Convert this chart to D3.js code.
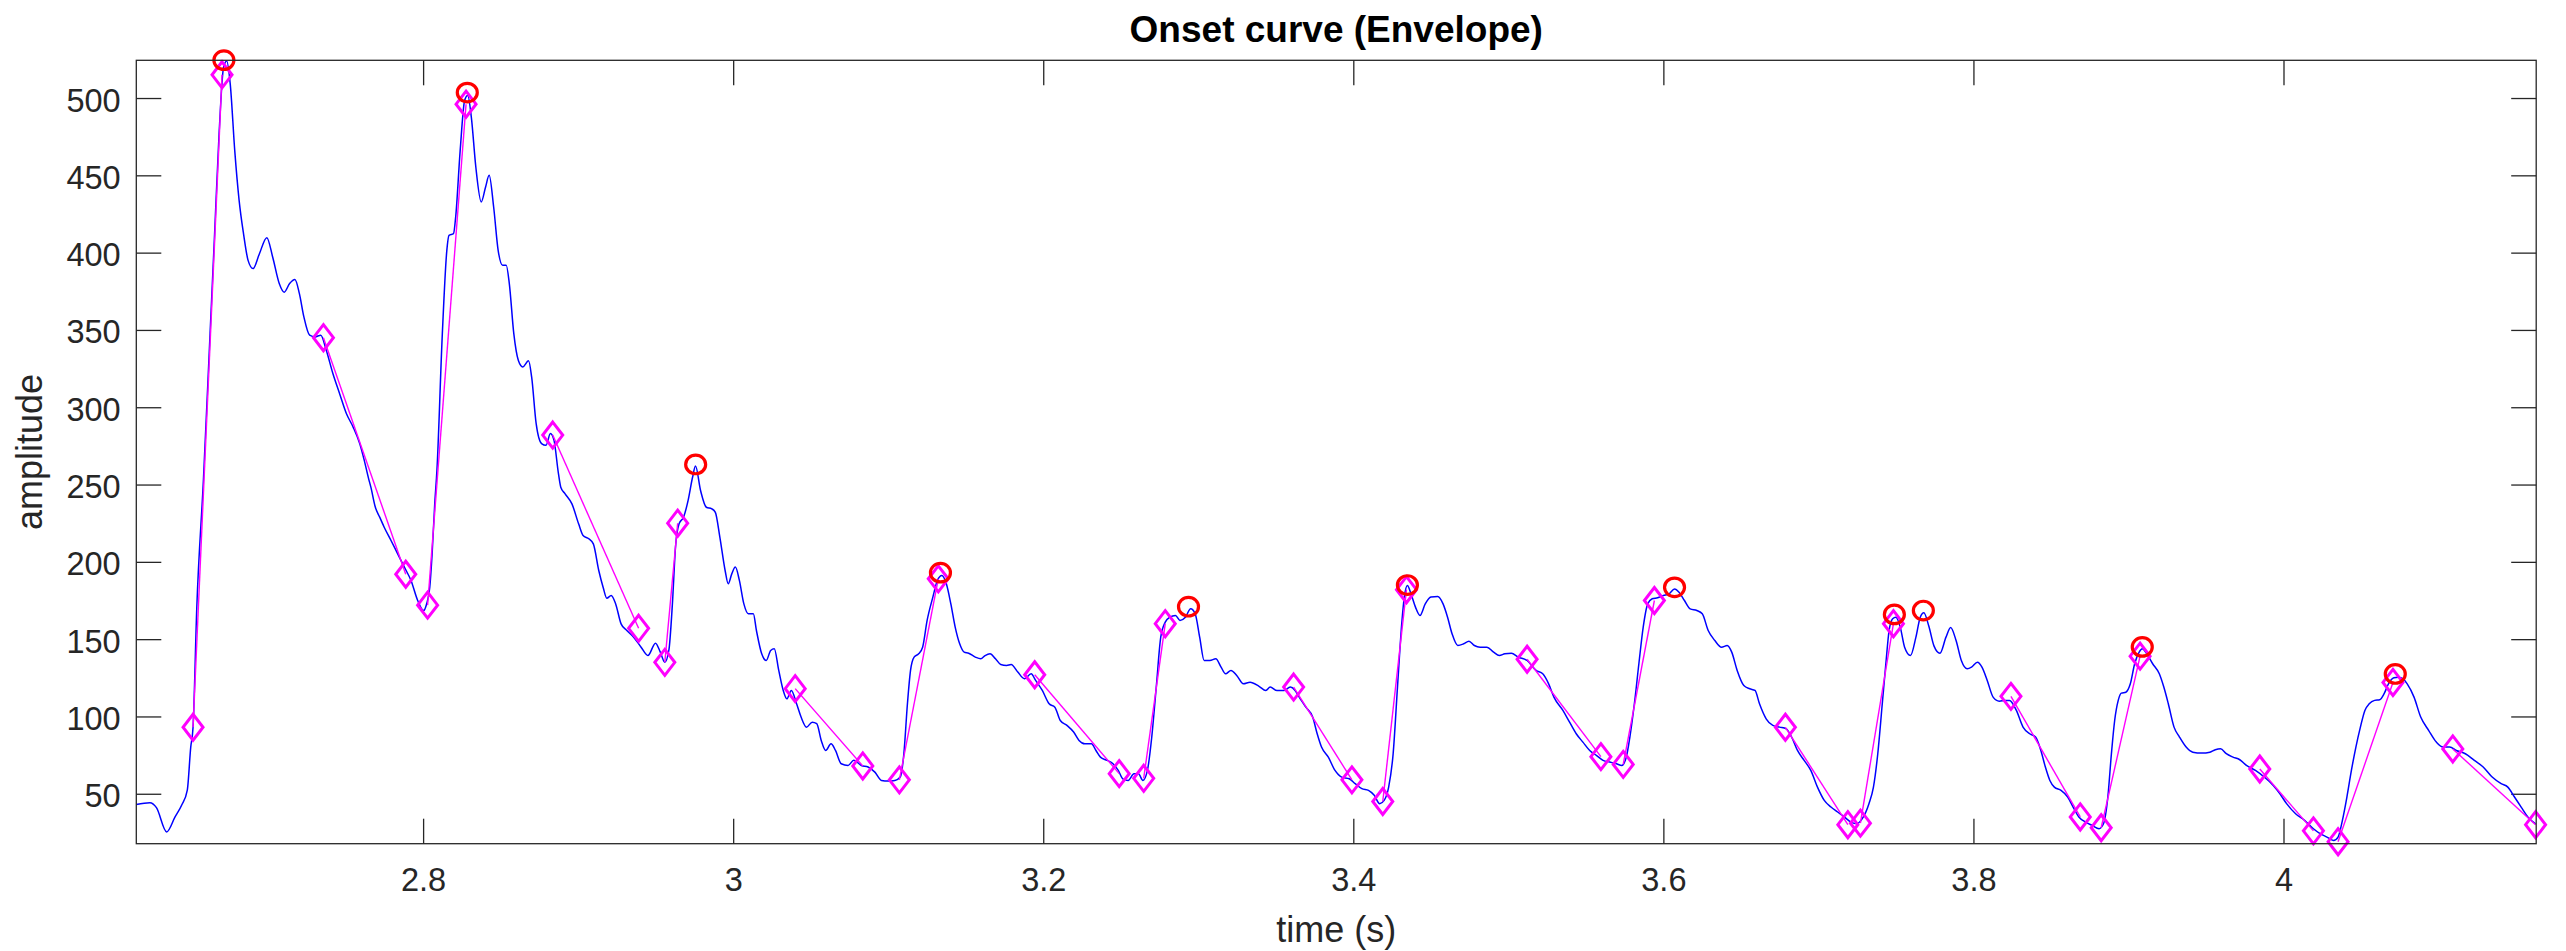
<!DOCTYPE html>
<html>
<head>
<meta charset="utf-8">
<script src="https://cdn.jsdelivr.net/npm/d3@7"></script>
<style>
  html, body { margin: 0; padding: 0; background: #ffffff; }
  svg { display: block; }
  text { font-family: "Liberation Sans", Arial, Helvetica, sans-serif; }
</style>
</head>
<body>
<svg id="chart" width="2566" height="951"></svg>
<script>
// ---------- data ----------
const envTime = [2.615,2.6238,2.628,2.6346,2.640,2.6443,2.6479,2.6501,2.6516,2.654,2.6583,2.6626,2.6655,2.6684,2.6713,2.6733,2.6756,2.6785,2.6813,2.6842,2.6871,2.6903,2.6943,2.6992,2.703,2.7072,2.7104,2.7139,2.7173,2.7202,2.7231,2.7268,2.7303,2.734,2.7375,2.7418,2.7461,2.7505,2.7548,2.7591,2.762,2.7648,2.7663,2.7692,2.772,2.7749,2.7793,2.7836,2.7879,2.7922,2.7965,2.8003,2.8023,2.8043,2.8058,2.8075,2.8089,2.8124,2.8153,2.8167,2.8196,2.821,2.8239,2.8268,2.8288,2.8311,2.834,2.8375,2.8403,2.8426,2.8455,2.8484,2.8513,2.8536,2.8556,2.8585,2.8614,2.8643,2.868,2.87,2.8729,2.8764,2.8793,2.8821,2.8844,2.8873,2.8888,2.8916,2.896,2.9003,2.9032,2.9069,2.9098,2.9133,2.9161,2.9185,2.9213,2.9242,2.9277,2.9314,2.9358,2.9406,2.945,2.9499,2.953,2.9559,2.9585,2.9608,2.9628,2.9651,2.968,2.9709,2.9738,2.9757,2.979,2.9827,2.9862,2.9885,2.9914,2.9948,2.9968,2.9991,3.0014,3.004,3.0069,3.0098,3.013,3.015,3.0184,3.0213,3.0242,3.0265,3.0294,3.0323,3.0346,3.0375,3.0409,3.0438,3.0473,3.051,3.0539,3.0568,3.0597,3.0631,3.066,3.0697,3.0741,3.0778,3.0827,3.087,3.0914,3.0957,3.1,3.1043,3.1078,3.1101,3.1124,3.1144,3.1167,3.1196,3.1222,3.1251,3.1288,3.1317,3.1346,3.1375,3.1404,3.1432,3.1461,3.149,3.1519,3.1562,3.1597,3.1625,3.1657,3.1692,3.1726,3.1764,3.1793,3.1836,3.1879,3.1922,3.1951,3.1994,3.2038,3.2075,3.211,3.2153,3.2196,3.2231,3.2268,3.2311,3.234,3.2369,3.2412,3.245,3.2484,3.2513,3.2548,3.2585,3.2614,3.2643,3.2672,3.27,3.2729,3.2758,3.2787,3.2816,3.2853,3.2882,3.2917,3.2951,3.298,3.3009,3.3038,3.3075,3.3113,3.3147,3.3176,3.3211,3.3248,3.3291,3.3334,3.3392,3.3436,3.3464,3.3508,3.3551,3.3594,3.3623,3.3651,3.3694,3.3738,3.3767,3.3795,3.3839,3.3882,3.3925,3.3974,3.4012,3.4055,3.4098,3.4135,3.417,3.4199,3.4228,3.4257,3.4285,3.4314,3.4329,3.4349,3.4372,3.4401,3.443,3.4464,3.4501,3.4545,3.4579,3.4608,3.4637,3.4674,3.4712,3.4746,3.4781,3.4818,3.4862,3.4905,3.4942,3.4977,3.502,3.5063,3.5121,3.5179,3.5222,3.526,3.5294,3.5352,3.5395,3.5438,3.5481,3.5525,3.5568,3.5611,3.5654,3.5697,3.5732,3.5761,3.5784,3.5813,3.5842,3.587,3.5899,3.5928,3.5963,3.6,3.6037,3.6072,3.6101,3.6136,3.6173,3.6216,3.6251,3.6289,3.6332,3.6375,3.6412,3.6441,3.6476,3.6519,3.6557,3.6591,3.662,3.6663,3.6706,3.675,3.6793,3.6827,3.6865,3.6908,3.6951,3.6994,3.7038,3.7081,3.7124,3.7167,3.721,3.7248,3.7283,3.7326,3.7355,3.7383,3.7412,3.7435,3.7456,3.7479,3.7499,3.7528,3.7556,3.7594,3.7629,3.7657,3.768,3.7712,3.7746,3.7784,3.7823,3.7853,3.7888,3.7922,3.796,3.7988,3.8026,3.8055,3.8089,3.8127,3.8167,3.8205,3.8233,3.8277,3.832,3.8363,3.8401,3.8435,3.8464,3.8493,3.8522,3.8565,3.8608,3.8643,3.868,3.8723,3.8767,3.881,3.8839,3.8867,3.889,3.8911,3.8934,3.8954,3.8983,3.9012,3.904,3.9069,3.9089,3.9118,3.9156,3.9199,3.9228,3.9257,3.9294,3.9329,3.9372,3.9415,3.9473,3.9525,3.956,3.9594,3.9631,3.9674,3.9718,3.9761,3.9819,3.9876,3.9934,3.9977,4.002,4.0078,4.0136,4.0193,4.0236,4.028,4.0323,4.0352,4.038,4.0409,4.0438,4.0467,4.0496,4.0525,4.0553,4.0588,4.062,4.0649,4.0677,4.0712,4.0741,4.077,4.0798,4.0842,4.0885,4.0937,4.0986,4.1029,4.1072,4.1115,4.1173,4.1231,4.1288,4.1346,4.1404,4.1447,4.149,4.1533,4.1576,4.1626];
const envAmp = [43,44.2,41,25.3,35,42.7,52.4,80,93,170,253,348,412,477,520,524,509,466,434,412,395,389.7,399,409.7,397,380,374.4,380,382.6,373.5,358.4,346.6,345.5,346.6,337,321.8,308.9,295.9,287.3,276.5,265.8,254,248.3,235.3,228.9,222.4,213.8,205.2,196.6,187.9,175,168.5,172.9,183.6,205,237.5,259,347.6,401.5,411.2,412.3,423,466,498.5,501.7,487.7,455.4,432.8,442.5,450,429.5,401.5,391.8,391.8,380,347.6,330.4,326.1,330,319.6,289.5,276.5,275.4,283,278.7,257,248.3,244,237.5,224.6,217,214.9,211.6,194.4,183.6,176.5,178.2,172.8,159.9,155.6,151.3,144.8,139.4,147.4,141.6,135.1,142.7,172.8,209.5,224.6,228.9,239.6,254.7,262,246,235.3,234.3,232,216,194.4,185.8,192.2,196.6,188,172.8,166.4,166.4,155.6,140.5,136.2,142.7,143.8,129.8,116.8,111.4,116.8,108.2,99.6,93.1,96.3,95.3,84.5,78,82.3,78,69.4,68.3,71.6,68.3,67.3,64,58.6,58.2,58.6,60.8,75.9,108.2,129.8,138.4,140.5,144.8,162.1,177.2,187.9,191.2,185.8,172.8,157.8,147,141.6,140.9,138.4,137.3,139.4,140.5,137.3,133.6,133,133.6,128.7,124.4,127.6,123.3,116.8,108.2,106,97.4,94.2,89.9,84.5,82.3,82.3,78,73.7,71.6,69.4,65.1,59.7,58.6,62.9,62.9,58.6,65.1,86.7,119,151.3,161,164.2,165.3,162.1,164.2,169.6,166.4,151.3,136.2,136.2,137.3,131.9,127.6,129.8,126.5,121.1,122.2,119.5,116.8,119,116.8,116.8,119,117,112.5,106,99.6,88.8,80.2,73.7,65.1,60.8,59.7,56.5,53.3,52.2,49,43.6,45.7,54.3,75.9,119,162.1,177.2,184.7,179.3,170.7,165.3,172.8,177.2,177.6,172.8,164.2,153.5,145.9,147,148.7,145.9,144.8,144.8,141.6,139.4,140.5,140.9,138.4,136.2,129.8,127.6,121.1,112.5,103.9,96.3,88.8,83.4,78,74.8,71.6,70.5,69.4,68.3,73.7,86.7,108.2,134.1,157.8,172.8,176.1,176.8,178.2,179.3,182.5,180.4,175,169.6,168.5,166.4,155.6,149.1,144.8,145.9,141.6,129.8,120,117.9,116.8,108.2,98.5,94.2,93.1,92,86.7,78,71.6,65.1,54.3,45.7,41.4,38.2,35,31.7,30.6,33.9,43.6,54.3,75.9,108.2,134.1,155.6,163.2,164.2,157.8,144.8,139.4,151.3,164.2,167,158.5,145.5,140.9,151.3,157.5,149.1,136.2,130.8,131.9,135.1,131.9,123.3,112.5,109.9,110.4,110.4,103.9,93.1,88.8,86.7,78,67.3,58.6,54.3,52.2,47.9,41.4,35,31.7,29.5,27.4,30.6,47.9,75.9,97.4,110.4,115.1,115.7,121.1,134.1,141.6,143.8,140.5,134.1,127.6,119,108.2,93.1,86.7,80.2,76.9,76.3,76.9,78.5,79.1,75.9,73.7,72,68.3,65.1,60.8,55.4,50,43.6,37.1,32.8,27.4,24.2,22,19.8,22,32.8,47.9,65.1,80.2,93.1,103.9,108.2,110.4,110.8,114.7,121.1,125,125.4,124.4,121.1,112.5,99.6,90.9,83.4,80.2,80.2,78,75.9,71.6,67.3,60.8,56.5,54.3,47.9,41.4,35,30.6];

// diamond markers; consecutive pairs (1-2, 3-4, ...) are joined by a magenta segment
const diamondTime = [2.6516,2.6703,2.7357,2.7888,2.8029,2.8277,2.8836,2.9390,2.9559,2.9642,3.0400,3.0836,3.1072,3.1323,3.1945,3.2490,3.2648,3.2787,3.3615,3.3991,3.4190,3.4343,3.5121,3.5597,3.5741,3.5942,3.6787,3.7190,3.7271,3.7484,3.8242,3.8689,3.8824,3.9075,3.9847,4.0193,4.0352,4.0706,4.1092,4.1626];
const diamondAmp  = [93,515,345,192,172,496,282,157,135,225,118,68,59,189,127,63,60,160,119,59,45,182,137,74,69,175,93,30,31,160,113,35,28,139,66,26,19,122,79,30];

const peakTime = [2.6715,2.8285,2.9758,3.1337,3.2937,3.4349,3.6072,3.7490,3.7677,3.9089,4.0721];
const peakAmp  = [524.5,503.5,263,193,171,185,183.5,166,168.5,145,127.5];

const xTicks = [2.8,3,3.2,3.4,3.6,3.8,4];
const xTickLabels = ["2.8","3","3.2","3.4","3.6","3.8","4"];
const yTicks = [50,100,150,200,250,300,350,400,450,500];
const yTickLabels = ["50","100","150","200","250","300","350","400","450","500"];

const titleText = "Onset curve (Envelope)";
const xLabelText = "time (s)";
const yLabelText = "amplitude";

// ---------- layout ----------
const W = 2566, H = 951;
const M = { left: 136.3, right: W - 2536.2, top: 60.3, bottom: H - 843.7 };
const iw = W - M.left - M.right, ih = H - M.top - M.bottom;
const axisColor = "#262626";
const tickLen = 25;

const svg = d3.select("#chart");
const g = svg.append("g").attr("transform", `translate(${M.left},${M.top})`);

const x = d3.scaleLinear().domain([2.615, 4.163]).range([0, iw]);
const y = d3.scaleLinear().domain([17.7, 524.4]).range([ih, 0]);

svg.append("defs").append("clipPath").attr("id", "clip")
  .append("rect").attr("x", 0).attr("y", -20).attr("width", iw).attr("height", ih + 40);

// ---------- axes ----------
const fmtX = d => xTickLabels[xTicks.indexOf(d)];
const fmtY = d => yTickLabels[yTicks.indexOf(d)];

const gx = g.append("g").attr("transform", `translate(0,${ih})`)
  .call(d3.axisBottom(x).tickValues(xTicks).tickFormat(fmtX).tickSizeInner(-tickLen).tickSizeOuter(0).tickPadding(0));
const gxTop = g.append("g")
  .call(d3.axisTop(x).tickValues(xTicks).tickFormat("").tickSizeInner(-tickLen).tickSizeOuter(0));
const gy = g.append("g")
  .call(d3.axisLeft(y).tickValues(yTicks).tickFormat(fmtY).tickSizeInner(-tickLen).tickSizeOuter(0).tickPadding(15.7));
const gyRight = g.append("g").attr("transform", `translate(${iw},0)`)
  .call(d3.axisRight(y).tickValues(yTicks).tickFormat("").tickSizeInner(-tickLen).tickSizeOuter(0));

[gx, gxTop, gy, gyRight].forEach(a => {
  a.select(".domain").remove();
  a.selectAll(".tick line").attr("stroke", axisColor).attr("stroke-width", 1.3);
});
gx.selectAll(".tick text")
  .attr("y", 47.3).attr("dy", null)
  .attr("font-size", 32.5).attr("fill", axisColor);
gy.selectAll(".tick text")
  .attr("dy", 13)
  .attr("font-size", 32.5).attr("fill", axisColor);

// ---------- marks ----------
const plot = g.append("g").attr("clip-path", "url(#clip)");

const envData = envTime.map((t, i) => ({ t, a: envAmp[i] }));
plot.append("path")
  .datum(envData)
  .attr("fill", "none")
  .attr("stroke", "#0000ff")
  .attr("stroke-width", 1.5)
  .attr("stroke-linejoin", "round")
  .attr("d", d3.line().x(d => x(d.t)).y(d => y(d.a)).curve(d3.curveMonotoneX));

const diaData = diamondTime.map((t, i) => ({ t, a: diamondAmp[i] }));
const diaPairs = d3.range(0, diaData.length - 1, 2).map(i => [diaData[i], diaData[i + 1]]);
const segLine = d3.line().x(d => x(d.t)).y(d => y(d.a));
plot.append("g").selectAll("path")
  .data(diaPairs).join("path")
  .attr("fill", "none")
  .attr("stroke", "#ff00ff")
  .attr("stroke-width", 1.4)
  .attr("d", segLine);

const dw = 10, dh = 13;
g.append("g").selectAll("path.dia")
  .data(diaData).join("path")
  .attr("class", "dia")
  .attr("transform", d => `translate(${x(d.t)},${y(d.a)})`)
  .attr("d", `M0,${-dh}L${dw},0L0,${dh}L${-dw},0Z`)
  .attr("fill", "none")
  .attr("stroke", "#ff00ff")
  .attr("stroke-width", 3);

const pkData = peakTime.map((t, i) => ({ t, a: peakAmp[i] }));
g.append("g").selectAll("ellipse")
  .data(pkData).join("ellipse")
  .attr("cx", d => x(d.t)).attr("cy", d => y(d.a))
  .attr("rx", 10).attr("ry", 9.3)
  .attr("fill", "none")
  .attr("stroke", "#ff0000")
  .attr("stroke-width", 3.2);

// ---------- box ----------
g.append("rect")
  .attr("x", 0).attr("y", 0).attr("width", iw).attr("height", ih)
  .attr("fill", "none").attr("stroke", axisColor).attr("stroke-width", 1.3);

// ---------- titles ----------
svg.append("text")
  .attr("x", M.left + iw / 2).attr("y", 41.7)
  .attr("text-anchor", "middle")
  .attr("font-size", 37).attr("font-weight", "bold").attr("fill", "#000")
  .text(titleText);

svg.append("text")
  .attr("x", M.left + iw / 2).attr("y", 942)
  .attr("text-anchor", "middle")
  .attr("font-size", 36).attr("fill", axisColor)
  .text(xLabelText);

svg.append("text")
  .attr("transform", `translate(41.5,${M.top + ih / 2}) rotate(-90)`)
  .attr("text-anchor", "middle")
  .attr("font-size", 36).attr("fill", axisColor)
  .text(yLabelText);
</script>
</body>
</html>
